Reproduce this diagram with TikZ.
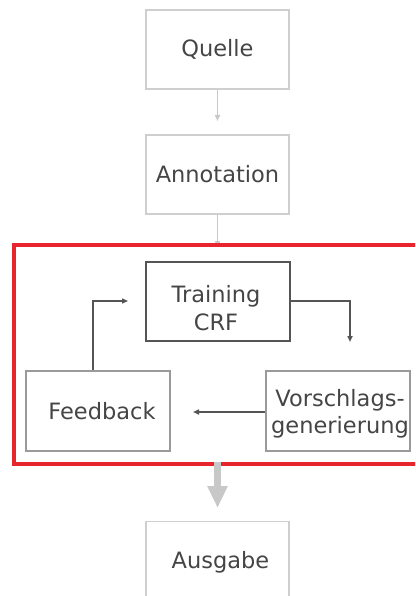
\documentclass[tikz,border=0pt]{standalone}
\usepackage{fontspec}
\setmainfont{DejaVu Sans}
\usetikzlibrary{arrows.meta}
\definecolor{txt}{HTML}{454545}
\definecolor{paleline}{HTML}{CFCFCF}
\definecolor{paleflow}{HTML}{C8C8C8}
\definecolor{darkline}{HTML}{555555}
\definecolor{midline}{HTML}{9A9A9A}
\definecolor{frame}{HTML}{E8242C}
\begin{document}
\begin{tikzpicture}[x=1pt,y=-1pt,
  font=\fontsize{22.5}{27.5}\selectfont,
  every node/.style={text=txt, inner sep=0pt, align=center},
  stagebox/.style={draw=paleline, line width=1.2pt, minimum width=143pt, minimum height=79pt},
  loopbox/.style={draw=midline, line width=1.3pt, minimum width=144pt, minimum height=80pt},
  corebox/.style={draw=darkline, line width=1.3pt, minimum width=144pt, minimum height=79pt},
  paleflowline/.style={draw=paleflow, line width=1.6pt, -{Triangle[length=6pt,width=5pt]}},
  loopflow/.style={draw=darkline, line width=1.8pt, -{Triangle[length=6pt,width=5pt]}},
  bigflow/.style={draw=paleflow, line width=7pt, -{Triangle[length=22pt,width=19pt]}}
]
\useasboundingbox (0,0) rectangle (415,596);
\begin{scope}
\clip (0,0) rectangle (415,596);

% main pipeline stages
\node[stagebox] (quelle) at (217.5,49.5) {Quelle};
\node[stagebox] (annot) at (217.5,174.5) {Annotation};
\node[stagebox, anchor=north] (ausgabe) at (217.5,521) {};
\node (ausgabetxt) at (220.5,562) {Ausgabe};

\coordinate (loopin) at (217.5,247);
\coordinate (loopout) at (217.5,462);

\draw[paleflowline] (quelle.south) -- (217.5,121);
\draw[paleflowline] (annot.south) -- (loopin);

% training loop
\node[corebox] (train) at (218,301.5) {};
\node (traintxt) at (216,308) {Training\\CRF};
\node[loopbox] (feedback) at (98,411) {};
\node (feedbacktxt) at (102,411) {Feedback};
\node[loopbox] (vorschlag) at (338,411) {};
\node (vorschlagtxt) at (340,414) {Vorschlags-\\generierung};

\coordinate (tocore) at (128,301);
\coordinate (tosugg) at (350,342);
\coordinate (tofeed) at (193,412);

\draw[darkline, line width=1.2pt] (train.east |- 0,301) -- (351.2,301);
\draw[loopflow] (350,301) -- (tosugg);
\draw[loopflow] (vorschlag.west |- tofeed) -- (tofeed);
\draw[darkline, line width=1.4pt, -{Triangle[length=6pt,width=5pt]}] (feedback.north -| 93,0) |- (tocore);

% loop frame
\node[draw=frame, line width=4pt, anchor=north west, minimum width=420pt, minimum height=219pt] (loopframe) at (12,243) {};

\draw[bigflow] (loopout) -- (217.5,508);
\end{scope}
\end{tikzpicture}
\end{document}
